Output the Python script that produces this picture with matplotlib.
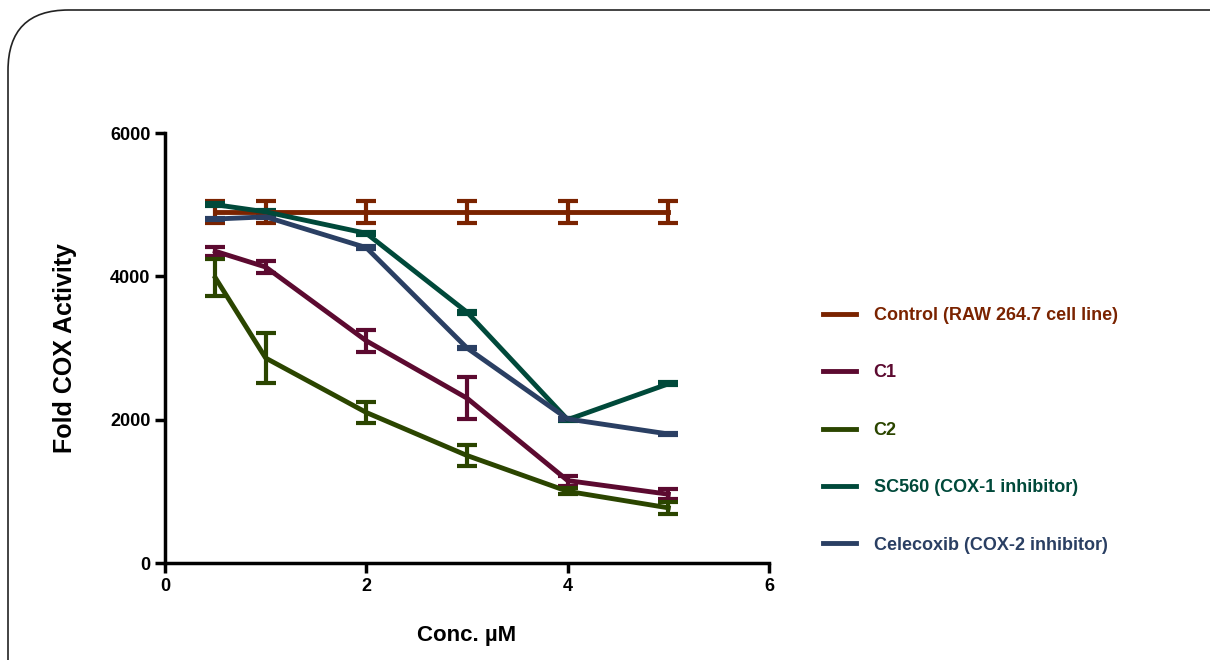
import matplotlib.pyplot as plt
from matplotlib.patches import FancyBboxPatch

plt.rcParams['font.family'] = ['Liberation Sans', 'DejaVu Sans']

conc = [0.5, 1, 2, 3, 4, 5]

control = [4900, 4900, 4900, 4900, 4900, 4900]
control_err = [150, 150, 150, 150, 150, 150]
c1 = [4350, 4130, 3100, 2300, 1150, 960]
c1_err = [60, 80, 150, 290, 70, 70]
c2 = [3980, 2860, 2100, 1500, 1000, 770]
c2_err = [260, 350, 150, 150, 40, 80]
sc560 = [5000, 4900, 4600, 3500, 2000, 2500]
sc560_err = [20, 20, 20, 20, 20, 20]
celecoxib = [4800, 4830, 4400, 3000, 2010, 1800]
celecoxib_err = [20, 20, 20, 20, 20, 20]

labels = ['Control (RAW 264.7 cell line)', 'C1', 'C2',
          'SC560 (COX-1 inhibitor)', 'Celecoxib (COX-2 inhibitor)']
colors = ['#7a2300', '#5c0a30', '#2b4500', '#00493a', '#2a3f63']

x_ticks = [0, 2, 4, 6]
y_ticks = [0, 2000, 4000, 6000]

fig = plt.figure(figsize=(12.1, 6.6), dpi=100)
ax = fig.add_axes([165 / 1210, 1 - 563 / 660, 604 / 1210, 430 / 660])

# marco redondeado alrededor de la figura
marco = FancyBboxPatch((8 / 1210, -0.1), 1.3, 1.1 - 10 / 660,
                       boxstyle='round,pad=0,rounding_size=0.05',
                       transform=fig.transFigure, fill=False,
                       edgecolor='#222222', linewidth=1.2,
                       mutation_aspect=1210 / 660)
fig.patches.append(marco)

series = [(control, control_err), (c1, c1_err), (c2, c2_err),
          (sc560, sc560_err), (celecoxib, celecoxib_err)]
handles = []
for (vals, err), col, lab in zip(series, colors, labels):
    ax.errorbar(conc, vals, yerr=err, color=col, linewidth=3.5,
                elinewidth=3, capsize=7, capthick=3, label=lab)
    h, = ax.plot([], [], color=col, linewidth=3.5)
    handles.append(h)

ax.set_xlim(0, 6)
ax.set_ylim(0, 6000)
ax.set_xticks(x_ticks)
ax.set_yticks(y_ticks)
ax.spines['top'].set_visible(False)
ax.spines['right'].set_visible(False)
ax.spines['left'].set_linewidth(2.5)
ax.spines['bottom'].set_linewidth(2.5)
ax.tick_params(direction='out', width=2.5, length=7, labelsize=13)
for t in ax.get_xticklabels() + ax.get_yticklabels():
    t.set_fontweight('bold')

ax.set_xlabel('Conc. µM', fontsize=16, fontweight='bold', labelpad=22)
ax.set_ylabel('Fold COX Activity', fontsize=18, fontweight='bold', labelpad=24)

leg = fig.legend(handles, labels, loc='upper left',
                 bbox_to_anchor=(814 / 1210, 1 - 298 / 660),
                 frameon=False, borderpad=0, handlelength=1.8,
                 handletextpad=1.0, labelspacing=2.24,
                 prop={'weight': 'bold', 'size': 13})
for txt, col in zip(leg.get_texts(), colors):
    txt.set_color(col)

plt.savefig('out.png', dpi=100)
plt.close()
